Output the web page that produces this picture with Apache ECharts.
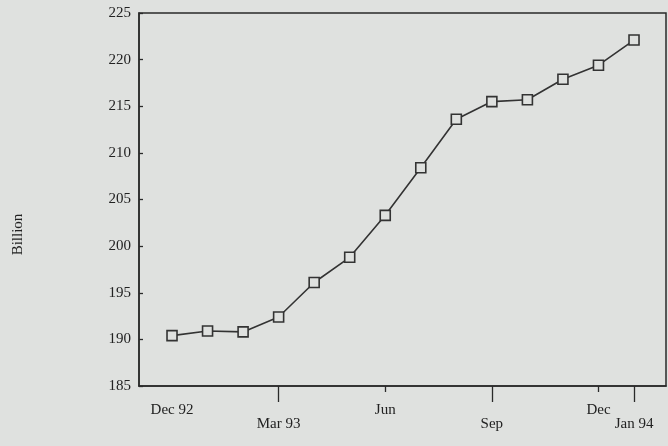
<!DOCTYPE html>
<html><head><meta charset="utf-8">
<script src="https://cdn.jsdelivr.net/npm/echarts@6/dist/echarts.min.js"></script>
<style>html,body{margin:0;padding:0;background:#dfe1df;}#c{width:668px;height:446px;}</style>
</head><body><div id="c"></div>
<script>
var months = ['Dec 92','Jan 93','Feb 93','Mar 93','Apr 93','May 93','Jun 93','Jul 93','Aug 93','Sep 93','Oct 93','Nov 93','Dec 93','Jan 94'];
var values = [190.4, 190.9, 190.8, 192.4, 196.1, 198.8, 203.3, 208.4, 213.6, 215.5, 215.7, 217.9, 219.4, 222.1];
var tickLabels = {0:'Dec 92', 3:'Mar 93', 6:'Jun', 9:'Sep', 12:'Dec', 13:'Jan 94'};
var lowLabels = {3:true, 9:true, 13:true};
var yTicks = {min:185, max:225, step:5};

var font = 'Liberation Serif';
var data = values.map(function(v,i){return [i,v];});
var chart = echarts.init(document.getElementById('c'));
chart.setOption({
  backgroundColor:'#dfe1df',
  animation:false,
  grid:{left:139,right:2,top:13,bottom:60,show:true,borderColor:'#2a2a2a',borderWidth:1.5,backgroundColor:'transparent'},
  xAxis:[{
    type:'value', min:-0.929, max:13.9,
    axisLine:{onZero:false,lineStyle:{color:'#2a2a2a',width:1.5}},
    splitLine:{show:false},
    axisTick:{show:true,length:16,customValues:[3,9,13],lineStyle:{color:'#2a2a2a',width:1.3}},
    axisLabel:{customValues:[0,3,6,9,12,13],margin:17,color:'#222',fontFamily:font,fontSize:15,
      formatter:function(v){var t=tickLabels[v]; if(t===undefined)return ''; return lowLabels[v]?'{b|'+t+'}':'{a|'+t+'}';},
      rich:{a:{fontFamily:font,fontSize:15,color:'#222'},b:{fontFamily:font,fontSize:15,color:'#222',padding:[14,0,0,0]}}}
  },{
    type:'value', min:-0.929, max:13.9, position:'bottom',
    axisLine:{show:false,onZero:false}, splitLine:{show:false},
    axisTick:{show:true,length:6,customValues:[6,12],lineStyle:{color:'#2a2a2a',width:1.3}},
    axisLabel:{show:false}
  }],
  yAxis:{
    type:'value', min:yTicks.min, max:yTicks.max, interval:yTicks.step,
    name:'Billion', nameLocation:'middle', nameGap:113, nameRotate:90,
    nameTextStyle:{fontFamily:font,fontSize:15,color:'#222',padding:[0,70,0,0]},
    axisLine:{show:true,onZero:false,lineStyle:{color:'#2a2a2a',width:1.5}},
    axisTick:{show:true,inside:true,length:4,lineStyle:{color:'#2a2a2a',width:1.3}},
    splitLine:{show:false},
    axisLabel:{margin:8,color:'#222',fontFamily:font,fontSize:15}
  },
  series:[{
    type:'line', data:data, xAxisIndex:0,
    symbol:'rect', symbolSize:10, showAllSymbol:true,
    lineStyle:{color:'#333',width:1.6},
    itemStyle:{color:'#dfe1df',borderColor:'#333',borderWidth:1.6}
  }]
});
</script></body></html>
